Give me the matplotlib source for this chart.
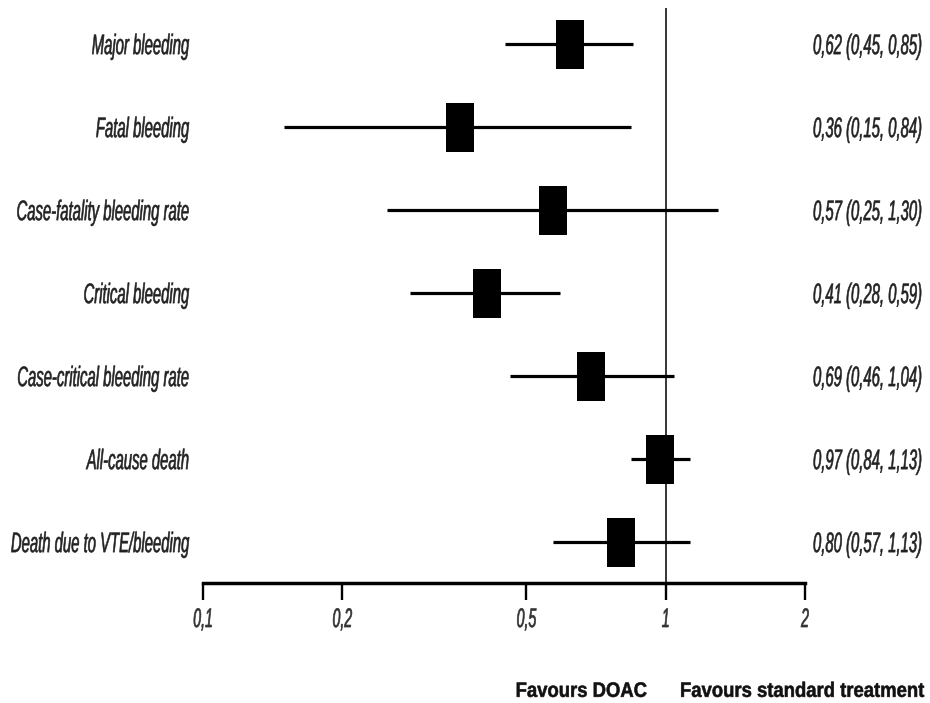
import matplotlib
matplotlib.use("Agg")
import matplotlib.pyplot as plt
from matplotlib.path import Path
from matplotlib.patheffects import AbstractPathEffect
from matplotlib.transforms import Affine2D, ScaledTranslation

outcomes = ["Major bleeding", "Fatal bleeding", "Case-fatality bleeding rate",
            "Critical bleeding", "Case-critical bleeding rate", "All-cause death",
            "Death due to VTE/bleeding"]
est = [0.62, 0.36, 0.57, 0.41, 0.69, 0.97, 0.80]
lo = [0.45, 0.15, 0.25, 0.28, 0.46, 0.84, 0.57]
hi = [0.85, 0.84, 1.30, 0.59, 1.04, 1.13, 1.13]
tick_vals = [0.1, 0.2, 0.5, 1, 2]
tick_labels = ["0,1", "0,2", "0,5", "1", "2"]

plt.rcParams['font.family'] = ["Liberation Sans", "DejaVu Sans"]


class StretchY(AbstractPathEffect):
    """Stretch glyphs vertically about their cap-height middle (narrow-font look),
    with an optional thin outline to thicken strokes."""
    def __init__(self, sy, cy=35.8, stroke=0.0):
        super().__init__()
        self.sy = sy
        self.cy = cy
        self.stroke = stroke

    def draw_path(self, renderer, gc, tpath, affine, rgbFace=None):
        pre = Affine2D().translate(0, -self.cy).scale(1, self.sy).translate(0, self.cy)
        if self.stroke > 0 and rgbFace is not None:
            gc0 = renderer.new_gc()
            gc0.copy_properties(gc)
            gc0.set_linewidth(self.stroke)
            gc0.set_foreground(rgbFace)
            gc0.set_joinstyle('round')
            renderer.draw_path(gc0, tpath, pre + affine, rgbFace)
            gc0.restore()
        else:
            renderer.draw_path(gc, tpath, pre + affine, rgbFace)


W, H = 930, 703
fig = plt.figure(figsize=(W / 100, H / 100), dpi=100)
x0, x1 = 203, 805
ytop, ybot = 8, 583
ax = fig.add_axes([x0 / W, 1 - ybot / H, (x1 - x0) / W, (ybot - ytop) / H])
ax.set_xscale('log')
ax.set_xlim(0.1, 2)
row0, step = 44, 83
ax.set_ylim((ybot - row0) / step, (ytop - row0) / step)

box = Path([(-14, -24), (14, -24), (14, 24), (-14, 24), (-14, -24)],
           [Path.MOVETO, Path.LINETO, Path.LINETO, Path.LINETO, Path.CLOSEPOLY])

lab_fs = 10.7
cap_off = 0.358 * lab_fs  # points: half cap height
ytr = ax.get_yaxis_transform() + ScaledTranslation(0, -cap_off / 72, fig.dpi_scale_trans)

ax.axvline(1, color='black', lw=1.1, zorder=1)
for i, (e, l, h) in enumerate(zip(est, lo, hi)):
    ax.plot([l, h], [i, i], color='black', lw=2.3, solid_capstyle='butt', zorder=2)
    ax.plot([e], [i], marker=box, markersize=49 * 0.72, color='black',
            markeredgewidth=0, linestyle='none', zorder=3)
    ax.text(-14 / (x1 - x0), i, outcomes[i], transform=ytr,
            ha='right', va='baseline', style='italic', fontsize=lab_fs, color='#222222',
            path_effects=[StretchY(1.9, stroke=0.4)])
    ax.text((922 - x0) / (x1 - x0), i, f"{e:.2f} ({l:.2f}, {h:.2f})".replace('.', ','),
            transform=ytr, ha='right', va='baseline',
            style='italic', fontsize=lab_fs, color='#222222',
            path_effects=[StretchY(1.9, stroke=0.4)])

for s in ['top', 'right', 'left']:
    ax.spines[s].set_visible(False)
ax.spines['bottom'].set_linewidth(2.5)
ax.set_yticks([])
ax.set_xticks(tick_vals)
labs = ax.set_xticklabels(tick_labels, style='italic', fontsize=10.2, color='#333333')
for t in labs:
    t.set_path_effects([StretchY(1.9, stroke=0.45)])
ax.minorticks_off()
ax.tick_params(axis='x', length=12.5, width=1.7, pad=8)

bt_fs = 13.3
fig.text(647 / W, 1 - 696 / H, "Favours DOAC", ha='right', va='baseline',
         fontsize=bt_fs, fontweight='bold', color='#111111',
         path_effects=[StretchY(1.13, stroke=0.4)])
fig.text(680 / W, 1 - 696 / H, "Favours standard treatment", ha='left', va='baseline',
         fontsize=bt_fs, fontweight='bold', color='#111111',
         path_effects=[StretchY(1.13, stroke=0.4)])

fig.savefig("out.png", dpi=100)
